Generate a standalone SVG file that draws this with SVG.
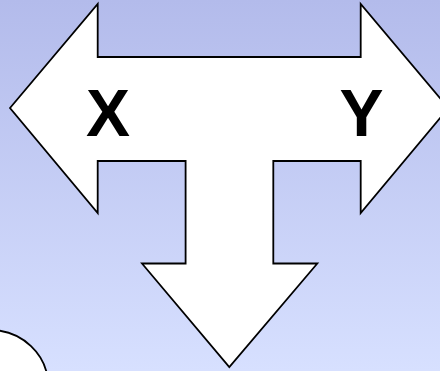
<svg xmlns="http://www.w3.org/2000/svg" width="440" height="371" viewBox="0 0 440 371">
  <defs>
    <linearGradient id="bg" x1="0" y1="0" x2="0" y2="1">
      <stop offset="0" stop-color="#b3bbeb"/>
      <stop offset="1" stop-color="#d7e0ff"/>
    </linearGradient>
    <style>
      .shape { fill: #ffffff; stroke: #000000; stroke-width: 1.8; stroke-linejoin: miter; }
      .lbl { font-family: "Liberation Sans", Arial, sans-serif; font-weight: bold; font-size: 66px; fill: #000000; text-anchor: middle; }
    </style>
  </defs>
  <rect x="0" y="0" width="440" height="371" fill="url(#bg)"/>
  <g id="t-arrow">
    <polygon class="shape" points="10,108 97.7,4 97.7,57 360.7,57 360.7,4 448.4,108 360.7,213 360.7,161 273.3,161 273.3,263.5 317.3,263.5 229.3,367 142,263.5 185.6,263.5 185.6,161 97.7,161 97.7,213"/>
    <text class="lbl" x="108" y="136">X</text>
    <text class="lbl" x="361.5" y="136">Y</text>
  </g>
  <g id="ellipse-node">
    <ellipse class="shape" cx="-10" cy="385" rx="58" ry="55"/>
  </g>
  <g id="connectors"/>
</svg>
